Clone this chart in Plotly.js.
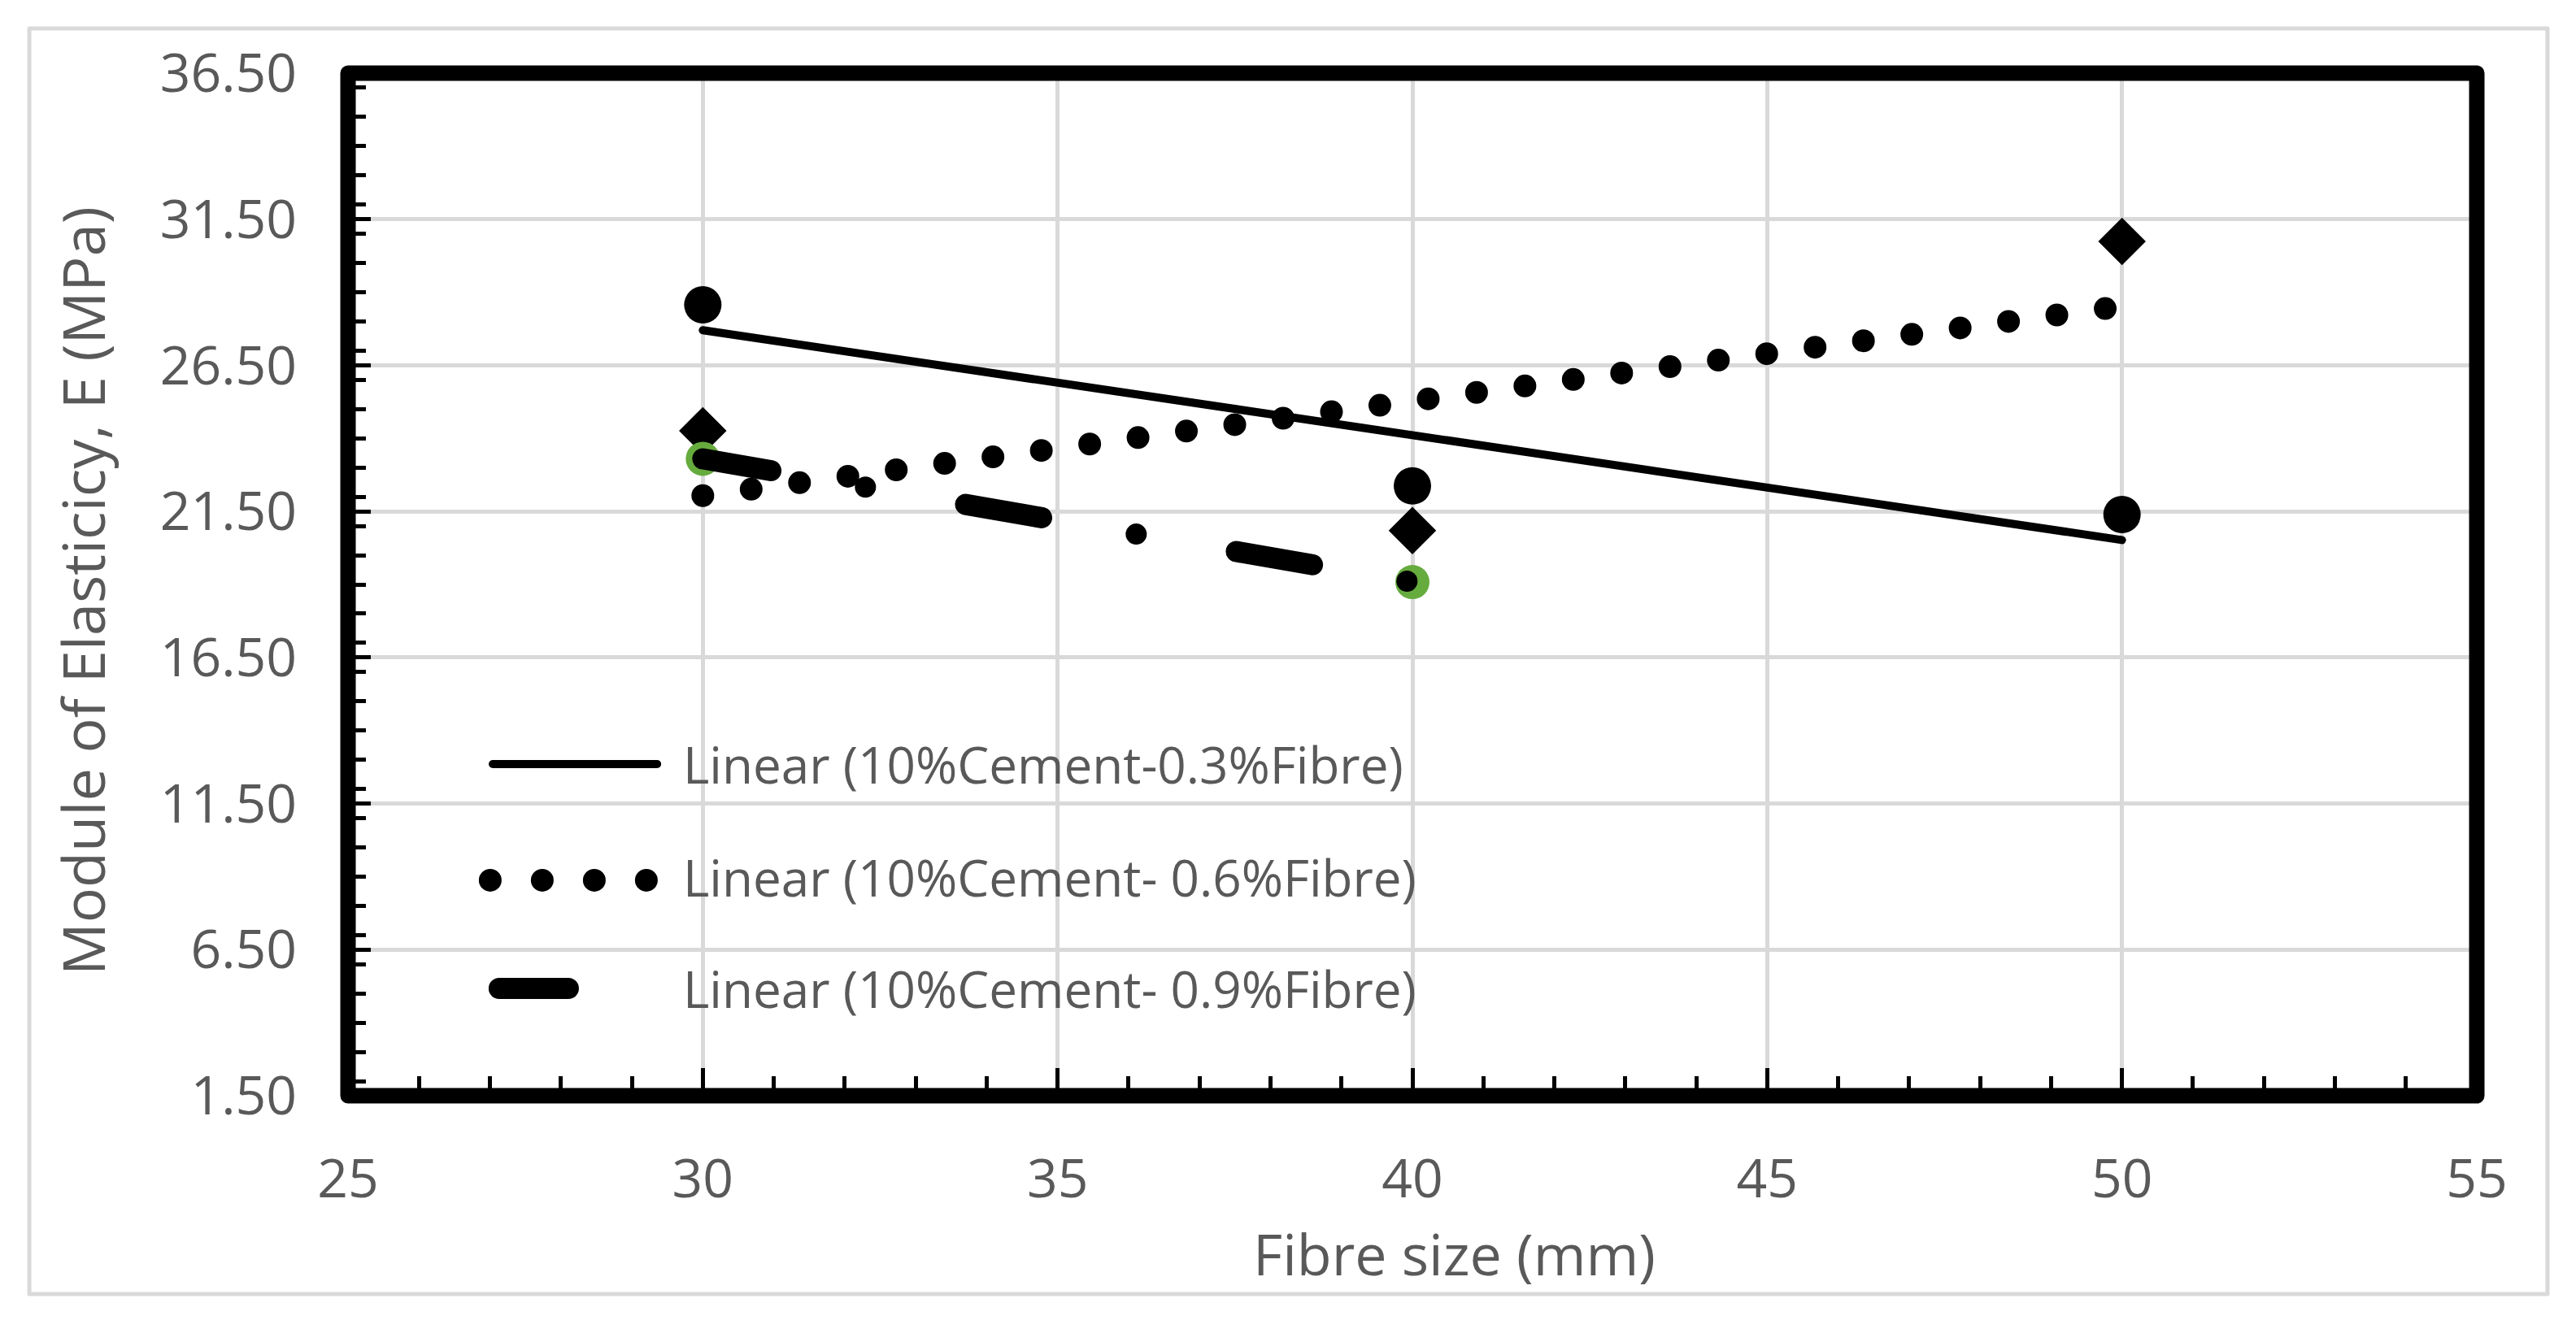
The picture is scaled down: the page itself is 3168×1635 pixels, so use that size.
<!DOCTYPE html>
<html>
<head>
<meta charset="utf-8">
<script src="https://cdn.plot.ly/plotly-3.0.1.min.js"></script>
<style>
  html, body { margin: 0; padding: 0; background: #ffffff; }
  #chart_div { width: 3168px; height: 1635px; }
  /* Excel draws trendlines with round caps: dots and dashes are rounded */
  .js-line { stroke-linecap: round; }
  .shapelayer path { stroke-linecap: round; stroke-linejoin: round; }
</style>
</head>
<body>
<div id="chart_div"></div>
<script>
var fibre_size = [30, 40, 50];
var e_fibre03 = [28.57, 22.37, 21.39];
var e_fibre06 = [24.26, 20.84, 30.74];
var fibre_size_09 = [30, 40];
var e_fibre09 = [23.3, 19.08];

var series_names = [
    'Linear (10%Cement-0.3%Fibre)',
    'Linear (10%Cement- 0.6%Fibre)',
    'Linear (10%Cement- 0.9%Fibre)'
];

var x_title = 'Fibre size (mm)';
var y_title = 'Module of Elasticicy, E (MPa)';

var text_grey = '#595959';
var font_name = '"Open Sans", "Noto Sans", sans-serif';

// long dash - round dot, first dash is a little shorter (pattern phase)
var long_dash_dot = '85px,118px,0px,125px,95px,118px,0px,125px,95px,118px,0px,125px,95px,118px';


function linear_fit(x_list, y_list)
{
    // least squares line, drawn over the range of the data like Excel does
    var n = x_list.length, sx = 0, sy = 0, sxx = 0, sxy = 0;
    for (var i = 0; i < n; i++)
    {
        sx += x_list[i];
        sy += y_list[i];
        sxx += x_list[i] * x_list[i];
        sxy += x_list[i] * y_list[i];
    }
    var slope = (n * sxy - sx * sy) / (n * sxx - sx * sx);
    var intercept = (sy - slope * sx) / n;
    var x_ends = [Math.min.apply(null, x_list), Math.max.apply(null, x_list)];
    return {
        x: x_ends,
        y: x_ends.map(function (x) { return intercept + slope * x; })
    };
}


function create_marker_trace(x_list, y_list, symbol, size, color)
{
    return {
        x: x_list,
        y: y_list,
        mode: 'markers',
        type: 'scatter',
        showlegend: false,
        hoverinfo: 'skip',
        marker: {
            symbol: symbol,
            size: size,
            color: color,
            line: {width: 0}
        }
    };
}


function create_trend_trace(x_list, y_list, width, dash)
{
    var fit = linear_fit(x_list, y_list);
    return {
        x: fit.x,
        y: fit.y,
        mode: 'lines',
        type: 'scatter',
        showlegend: false,
        hoverinfo: 'skip',
        line: {
            color: '#000000',
            width: width,
            dash: dash
        }
    };
}


// hand drawn legend, the swatches in the picture are much longer than plotly's
function legend_shapes()
{
    return [
        {
            type: 'line', xref: 'paper', yref: 'paper',
            x0: 0.068, x1: 0.1452, y0: 0.3243, y1: 0.3243,
            line: {color: '#000000', width: 10}
        },
        {
            type: 'line', xref: 'paper', yref: 'paper',
            x0: 0.0668, x1: 0.1410, y0: 0.2107, y1: 0.2107,
            line: {color: '#000000', width: 28, dash: '0px,64px'}
        },
        {
            type: 'line', xref: 'paper', yref: 'paper',
            x0: 0.071, x1: 0.1035, y0: 0.1049, y1: 0.1049,
            line: {color: '#000000', width: 26}
        }
    ];
}


function legend_annotations()
{
    var y_spots = [0.3243, 0.2135, 0.1049];
    return series_names.map(function (name, i) {
        return {
            text: name,
            xref: 'paper', yref: 'paper',
            x: 0.1566, y: y_spots[i],
            xanchor: 'left', yanchor: 'middle',
            showarrow: false,
            font: {family: font_name, size: 62, color: text_grey}
        };
    });
}


function create_layout()
{
    var layout = {
        width: 3168,
        height: 1635,
        margin: {l: 428, r: 122, t: 90, b: 287},
        paper_bgcolor: '#ffffff',
        plot_bgcolor: '#ffffff',
        showlegend: false,
        font: {family: font_name, color: text_grey},
        xaxis:
        {
            range: [25, 55],
            tick0: 25,
            dtick: 5,
            showgrid: true,
            gridcolor: '#d9d9d9',
            gridwidth: 5,
            zeroline: false,
            showline: false,
            ticks: 'inside',
            ticklen: 34,
            tickwidth: 5,
            tickcolor: '#000000',
            ticklabelstandoff: 58,
            tickfont: {family: font_name, size: 66, color: text_grey},
            minor: {
                dtick: 1,
                ticks: 'inside',
                ticklen: 24,
                tickwidth: 5,
                tickcolor: '#000000',
                showgrid: false
            }
        },
        yaxis:
        {
            range: [1.5, 36.5],
            tick0: 1.5,
            dtick: 5,
            tickformat: '.2f',
            showgrid: true,
            gridcolor: '#d9d9d9',
            gridwidth: 5,
            zeroline: false,
            showline: false,
            ticks: 'inside',
            ticklen: 28,
            tickwidth: 5,
            tickcolor: '#000000',
            ticklabelstandoff: 62,
            tickfont: {family: font_name, size: 66, color: text_grey},
            minor: {
                dtick: 1,
                ticks: 'inside',
                ticklen: 22,
                tickwidth: 5,
                tickcolor: '#000000',
                showgrid: false
            }
        },
        shapes: [
            // thin grey frame of the chart area
            {
                type: 'rect', xref: 'paper', yref: 'paper', layer: 'below',
                x0: -0.1497, x1: 1.0332, y0: -0.194, y1: 1.0437,
                line: {color: '#d9d9d9', width: 5}
            },
            // heavy black plot frame
            {
                type: 'rect', xref: 'paper', yref: 'paper', layer: 'above',
                x0: 0, x1: 1, y0: 0, y1: 1,
                line: {color: '#000000', width: 19}
            }
        ].concat(legend_shapes()),
        annotations: [
            {
                text: x_title,
                xref: 'paper', yref: 'paper',
                x: 0.5195, y: -0.1545,
                xanchor: 'center', yanchor: 'middle',
                showarrow: false,
                font: {family: font_name, size: 70, color: text_grey}
            },
            {
                text: y_title,
                xref: 'paper', yref: 'paper',
                x: -0.1249, y: 0.4936,
                xanchor: 'center', yanchor: 'middle',
                textangle: -90,
                showarrow: false,
                font: {family: font_name, size: 72, color: text_grey}
            }
        ].concat(legend_annotations())
    };
    return layout;
}


var traces = [
    create_marker_trace(fibre_size, e_fibre03, 'circle', 46, '#000000'),
    create_marker_trace(fibre_size, e_fibre06, 'diamond', 45, '#000000'),
    create_marker_trace(fibre_size_09, e_fibre09, 'circle', 42, '#66ab3e'),
    create_trend_trace(fibre_size, e_fibre03, 10, 'solid'),
    create_trend_trace(fibre_size, e_fibre06, 28, '0px,60px'),
    create_trend_trace(fibre_size_09, e_fibre09, 26, long_dash_dot)
];

Plotly.newPlot('chart_div', traces, create_layout(), {staticPlot: true, displayModeBar: false});
</script>
</body>
</html>
